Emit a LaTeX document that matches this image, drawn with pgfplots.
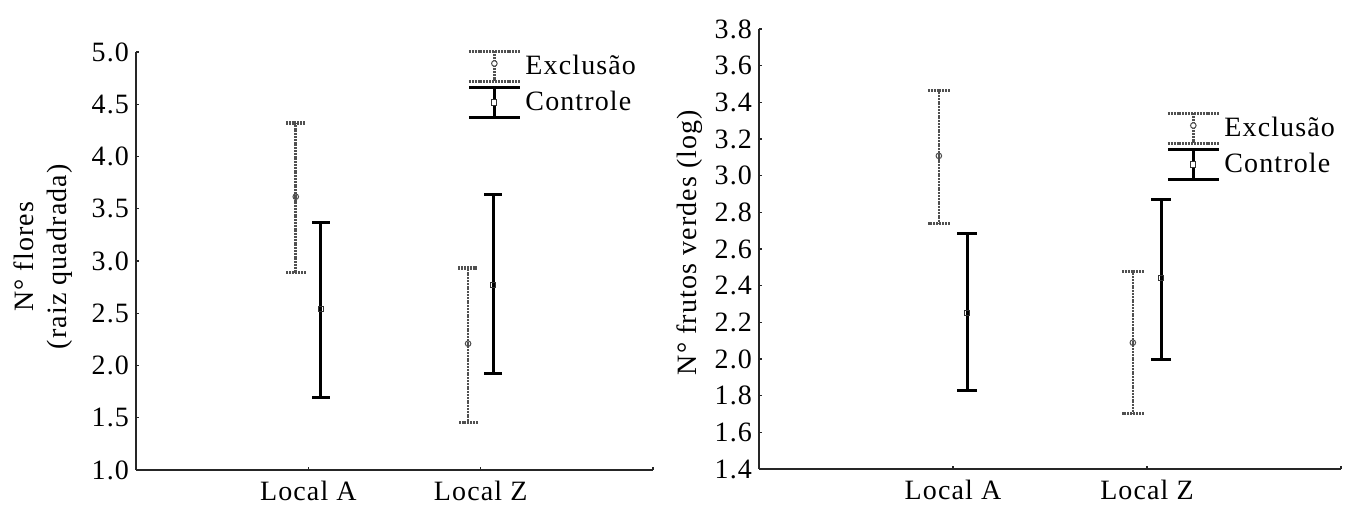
\documentclass[border=0pt]{standalone}
\usepackage{fontspec}
\setmainfont[LetterSpace=4]{Liberation Serif}
\usepackage{pgfplots}
\usepackage{pgfplotstable}
\pgfplotsset{compat=1.18}

\definecolor{exclgray}{RGB}{80,80,80}
\newcommand{\chartfont}{\fontsize{14}{16.5}\selectfont}

% columns: x position, mean, lower limit, upper limit
\pgfplotstableread{
x     mean  lo    hi
0.927 3.615 2.888 4.320
1.927 2.209 1.453 2.933
}\floresExcl
\pgfplotstableread{
x     mean  lo    hi
1.073 2.540 1.690 3.370
2.073 2.770 1.919 3.638
}\floresCtrl
\pgfplotstableread{
x     mean  lo    hi
0.927 3.108 2.738 3.466
1.927 2.089 1.704 2.476
}\frutosExcl
\pgfplotstableread{
x     mean  lo    hi
1.073 2.249 1.829 2.682
2.073 2.440 1.998 2.871
}\frutosCtrl

\pgfplotsset{
  panel/.style={
    scale only axis,
    axis lines*=left,
    axis line style={black!85, line width=0.6pt},
    xmin=0, xmax=3,
    xtick={0,1,2,3},
    xticklabels={,Local A,Local Z,},
    tick align=inside,
    major tick length=1.5pt,
    tick style={black!85, line width=0.6pt},
    every tick label/.append style={font=\chartfont},
    xticklabel style={yshift=-2pt},
    yticklabel style={/pgf/number format/fixed,
      /pgf/number format/fixed zerofill,
      /pgf/number format/precision=1},
    /pgf/number format/assume math mode=true,
    every axis y label/.style={rotate=90, anchor=center, font=\chartfont, align=center},
    legend style={draw=none, fill=none, inner sep=0pt, font=\chartfont,
      row sep=1.5pt, anchor=north west},
    legend cell align=left,
    clip=false,
  },
  % error bars only; the invisible text mark keeps pgfplots from adding dots
  barsonly/.style={only marks, mark=text, text mark={}, forget plot,
    /pgfplots/error bars/y dir=both, /pgfplots/error bars/y explicit},
  exclbars/.style={barsonly,
    /pgfplots/error bars/error bar style={exclgray, line width=1.3pt,
      dash pattern=on 1pt off 0.4pt},
    /pgfplots/error bars/error mark options={rotate=90, mark size=#1, exclgray,
      line width=1.6pt, dash pattern=on 1pt off 0.45pt}},
  ctrlbars/.style={barsonly,
    /pgfplots/error bars/error bar style={black, line width=1.5pt},
    /pgfplots/error bars/error mark options={rotate=90, mark size=#1, black,
      line width=1.5pt}},
  exclmarks/.style={only marks, mark=o, mark size=1.4pt,
    mark options={fill=white, draw=black!70, line width=0.5pt},
    legend image code/.code={
      \draw[exclgray, line width=1.6pt, dash pattern=on 1pt off 0.45pt]
        (0pt,7.5pt) -- (25.5pt,7.5pt) (0pt,-7.5pt) -- (25.5pt,-7.5pt);
      \draw[exclgray, line width=1.3pt, dash pattern=on 1pt off 0.4pt]
        (12.75pt,-7.5pt) -- (12.75pt,7.5pt);
      \draw[black!70, fill=white, line width=0.5pt] (12.75pt,1.5pt) circle (1.4pt);
    }},
  ctrlmarks/.style={only marks, mark=square, mark size=1.3pt,
    mark options={fill=white, draw=black!80, line width=0.5pt},
    legend image code/.code={
      \draw[black, line width=1.5pt]
        (0pt,7.5pt) -- (25.5pt,7.5pt) (0pt,-7.5pt) -- (25.5pt,-7.5pt)
        (12.75pt,-7.5pt) -- (12.75pt,7.5pt);
      \draw[black!80, fill=white, line width=0.5pt]
        (11.45pt,-1.3pt) rectangle (14.05pt,1.3pt);
    }},
}

\begin{document}
\begin{tikzpicture}
% number of flowers
\begin{axis}[panel,
  at={(68pt,19pt)}, anchor=south west,
  width=258.5pt, height=209pt,
  ymin=1, ymax=5, ytick={1,1.5,...,5},
  ylabel={N° flores\\(raiz quadrada)},
  ylabel style={at={(axis description cs:-0.179,0.51)}},
  legend style={at={(axis description cs:0.64,1.006)}},
]
\addplot[exclbars=5pt] table[x=x, y=mean,
  y error plus expr=\thisrow{hi}-\thisrow{mean},
  y error minus expr=\thisrow{mean}-\thisrow{lo}] {\floresExcl};
\addplot[exclmarks] table[x=x, y=mean] {\floresExcl};
\addlegendentry{Exclusão}
\addplot[ctrlbars=4.4pt] table[x=x, y=mean,
  y error plus expr=\thisrow{hi}-\thisrow{mean},
  y error minus expr=\thisrow{mean}-\thisrow{lo}] {\floresCtrl};
\addplot[ctrlmarks] table[x=x, y=mean] {\floresCtrl};
\addlegendentry{Controle}
\end{axis}

% number of green fruits
\begin{axis}[panel,
  at={(379.5pt,19.5pt)}, anchor=south west,
  width=291pt, height=220pt,
  ymin=1.4, ymax=3.8, ytick={1.4,1.6,...,3.81},
  ylabel={N° frutos verdes (log)},
  ylabel style={at={(axis description cs:-0.1186,0.515)}},
  legend style={at={(axis description cs:0.699,0.8125)}},
]
\addplot[exclbars=5.5pt] table[x=x, y=mean,
  y error plus expr=\thisrow{hi}-\thisrow{mean},
  y error minus expr=\thisrow{mean}-\thisrow{lo}] {\frutosExcl};
\addplot[exclmarks] table[x=x, y=mean] {\frutosExcl};
\addlegendentry{Exclusão}
\addplot[ctrlbars=5pt] table[x=x, y=mean,
  y error plus expr=\thisrow{hi}-\thisrow{mean},
  y error minus expr=\thisrow{mean}-\thisrow{lo}] {\frutosCtrl};
\addplot[ctrlmarks] table[x=x, y=mean] {\frutosCtrl};
\addlegendentry{Controle}
\end{axis}

\pgfresetboundingbox
\useasboundingbox (0,0) rectangle (677pt,254pt);
\end{tikzpicture}
\end{document}
